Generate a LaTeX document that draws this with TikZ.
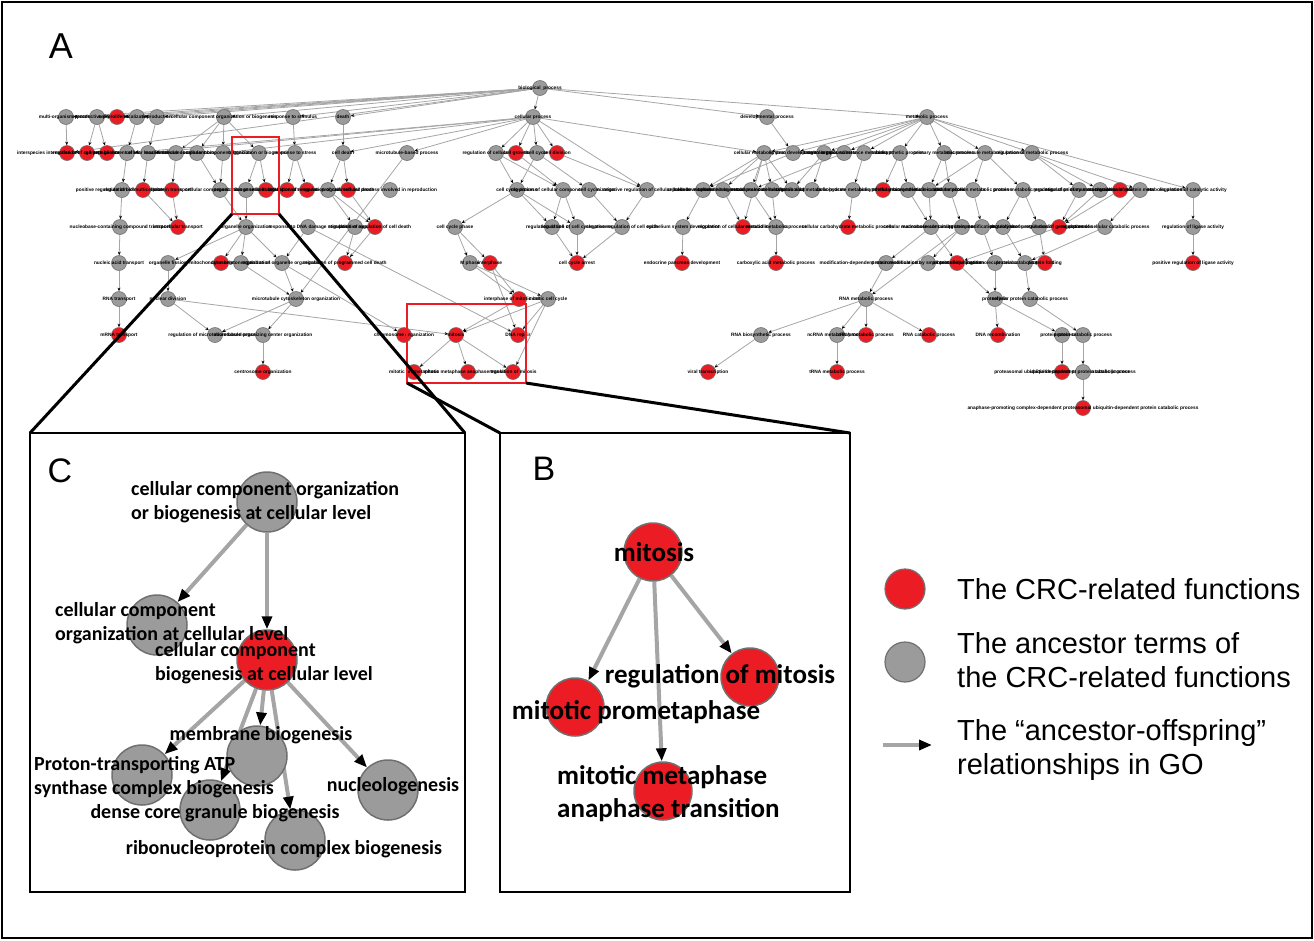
\documentclass[tikz,border=0pt]{standalone}
\usepackage{fontspec}
\setmainfont{Liberation Sans}
\newfontfamily\calibri{Carlito}
\usetikzlibrary{arrows.meta}
\pgfdeclarelayer{bglayer}
\pgfsetlayers{bglayer,main}
\definecolor{cred}{HTML}{EC1C24}
\definecolor{cgray}{HTML}{9B9B9B}
\definecolor{cborder}{HTML}{707070}
\definecolor{cedge}{HTML}{A5A5A5}
\tikzset{
  an/.style={circle,minimum size=15pt,inner sep=0pt,draw=cborder,line width=0.6pt},
  ar/.style={an,fill=cred},
  ag/.style={an,fill=cgray},
  alab/.style={font=\fontsize{4.8}{5}\selectfont\bfseries,inner sep=0pt},
  aedge/.style={draw=cedge,line width=0.8pt,-{Stealth[length=3.6pt,width=3pt,color=black]}},
  bn/.style={circle,minimum size=60pt,inner sep=0pt,draw=cborder,line width=1.5pt},
  bnr/.style={bn,fill=cred},
  bng/.style={bn,fill=cgray},
  ctext/.style={font=\calibri\bfseries\fontsize{20}{24}\selectfont,align=left,inner sep=0pt},
  btext/.style={font=\calibri\bfseries\fontsize{27}{33}\selectfont,align=left,inner sep=0pt},
  bedge/.style={draw=cedge,line width=4pt,-{Triangle[length=13pt,width=10pt,color=black]}},
  panel/.style={draw=black,line width=1.6pt},
  redbox/.style={draw=cred,line width=2.6pt},
  zoomline/.style={draw=black,line width=3pt},
  plabel/.style={font=\fontsize{34}{38}\selectfont,inner sep=0pt},
  legtext/.style={font=\fontsize{29}{34}\selectfont,align=left,inner sep=0pt,anchor=west}
}
\begin{document}
\begin{tikzpicture}[x=1pt,y=-1pt]
\useasboundingbox (0,0) rectangle (1314,940);
\draw[line width=2pt] (2,2) rectangle (1312,938);
\node[plabel,font=\fontsize{36}{40}\selectfont] (labA) at (61,46) {A};

% ---------- Panel A nodes ----------
\foreach \nm/\xx/\yy/\st/\lab in {
 r0/540/88/ag/biological\_process,
 n11/66/117/ag/multi-organism process, n12/97/117/ag/reproductive process, n13/117/117/ar/cell proliferation,
 n14/137/117/ag/localization, n15/157/117/ag/reproduction, n16/224/117/ag/cellular component organization or biogenesis,
 n17/293/117/ag/response to stimulus, n18/343/117/ag/death, cp/533/117/ag/cellular process,
 dp/767/117/ag/developmental process, mp/927/117/ag/metabolic process,
 n21/67/153/ar/interspecies interaction between organisms, n22/87/153/ar/regulation of cell proliferation,
 n23/107/153/ar/gamete generation, n24/127/153/ag/establishment of localization, n25/148/153/ag/cellular localization,
 n26/176/153/ag/macromolecule localization, n27/197/153/ag/cellular component biogenesis,
 n28/223/153/ag/cellular component organization, n29/259/153/ag/organization or biogenesis,
 n210/295/153/ag/response to stress, n211/343/153/ag/cell death, n212/407/153/ag/microtubule-based process,
 n213/496/153/ag/regulation of cellular process, n214/516/153/ar/cell growth, n215/537/153/ag/cell cycle,
 n216/557/153/ar/cell division, n217/764/153/ag/cellular metabolic process, n218/793/153/ag/system development,
 n219/824/153/ag/catabolic process, n220/844/153/ag/nitrogen compound metabolic process,
 n221/864/153/ag/organic substance metabolic process, n222/900/153/ag/biosynthetic process,
 n223/944/153/ag/primary metabolic process, n224/985/153/ag/macromolecule metabolic process,
 n225/1032/153/ag/regulation of metabolic process,
 n31/122/190/ag/positive regulation of biological process, n32/143/190/ar/regulation of multicellular process,
 n33/172/190/ar/protein transport, n34/220/190/ag/cellular component movement,
 n35/246/190/ag/organization at cellular level, n36/266/190/ar/biogenesis at cellular level,
 n37/287/190/ar/cellular response to stress, n38/307/190/ar/regulation of response to stimulus,
 n39/328/190/ag/regulation of cell death, n310/348/190/ar/programmed cell death,
 n311/390/190/ag/cellular process involved in reproduction, n312/517/190/ag/cell cycle process,
 n313/563/190/ag/regulation of cellular component organization, n314/589/190/ag/cell cycle,
 n315/647/190/ag/negative regulation of cellular process, n316/703/190/ag/cellular developmental process,
 n317/723/190/ag/cellular macromolecule metabolic process, n318/751/190/ag/cellular nitrogen compound metabolic process,
 n319/772/190/ag/small molecule metabolic process, n320/792/190/ag/cellular catabolic process,
 n321/812/190/ag/organic acid metabolic process, n322/853/190/ag/carbohydrate metabolic process,
 n323/883/190/ar/biosynthetic process, n324/908/190/ag/cellular biosynthetic process,
 n325/929/190/ag/macromolecule catabolic process, n326/950/190/ag/nucleic acid metabolic process,
 n327/973/190/ag/cellular protein metabolic process, n328/1023/190/ag/protein metabolic process,
 n329/1079/190/ag/regulation of primary metabolic process, n330/1100/190/ag/regulation of macromolecule metabolic process,
 n331/1120/190/ar/macromolecule modification, n332/1140/190/ag/regulation of protein metabolic process,
 n333/1193/190/ag/regulation of catalytic activity,
 n41/120/227/ag/nucleobase-containing compound transport, n42/178/227/ar/intracellular transport,
 n43/246/227/ag/organelle organization, n44/308/227/ag/response to DNA damage stimulus,
 n45/355/227/ag/regulation of apoptosis, n46/375/227/ar/positive regulation of cell death,
 n47/455/227/ag/cell cycle phase, n48/552/227/ag/regulation of cell cycle, n49/577/227/ag/regulation of cell cycle process,
 n410/622/227/ag/negative regulation of cell cycle, n411/683/227/ag/epithelium system development,
 n412/743/227/ar/regulation of cellular metabolic process, n413/776/227/ag/oxoacid metabolic process,
 n414/848/227/ar/cellular carbohydrate metabolic process, n415/931/227/ag/cellular macromolecule catabolic process,
 n416/962/227/ag/nucleobase-containing compound metabolic process, n417/982/227/ag/protein modification process,
 n418/1003/227/ag/proteolysis, n419/1039/227/ag/regulation of protein modification process,
 n420/1059/227/ar/regulation of gene expression, n421/1105/227/ag/regulation of cellular catabolic process,
 n422/1193/227/ag/regulation of ligase activity,
 n51/119/263/ag/nucleic acid transport, n52/168/263/ag/organelle fission, n53/221/263/ar/mitochondrion organization,
 n54/241/263/ag/cytoskeleton organization, n55/282/263/ag/regulation of organelle organization,
 n56/345/263/ar/regulation of programmed cell death, n57/470/263/ag/M phase, n58/490/263/ar/interphase,
 n59/577/263/ar/cell cycle arrest, n510/682/263/ar/endocrine pancreas development,
 n511/776/263/ar/carboxylic acid metabolic process, n512/886/263/ag/modification-dependent macromolecule catabolic process,
 n513/928/263/ag/protein modification by small protein conjugation, n514/957/263/ar/protein ubiquitination,
 n515/995/263/ag/cellular macromolecule catabolic process, n516/1025/263/ag/protein catabolic process,
 n517/1045/263/ar/protein folding, n518/1193/263/ar/positive regulation of ligase activity,
 n61/119/299/ag/RNA transport, n62/168/299/ag/nuclear division, n63/296/299/ag/microtubule cytoskeleton organization,
 n64/519/299/ar/interphase of mitotic cell cycle, n65/548/299/ag/mitotic cell cycle,
 n66/866/299/ag/RNA metabolic process, n67/995/299/ag/proteolysis, n68/1030/299/ag/cellular protein catabolic process,
 n71/119/335/ar/mRNA transport, n72/215/335/ag/regulation of microtubule-based process,
 n73/263/335/ag/microtubule organizing center organization, n74/404/335/ar/chromosome organization,
 n75/456/335/ar/mitosis, n76/518/335/ar/DNA repair, n77/761/335/ag/RNA biosynthetic process,
 n78/837/335/ag/ncRNA metabolic process, n79/866/335/ar/rRNA metabolic process, n710/929/335/ar/RNA catabolic process,
 n711/998/335/ar/DNA recombination, n712/1062/335/ag/protein processing, n713/1083/335/ag/protein catabolic process,
 n81/263/372/ar/centrosome organization, n82/414/372/ar/mitotic prometaphase,
 n83/468/372/ar/mitotic metaphase anaphase transition, n84/513/372/ar/regulation of mitosis,
 n85/708/372/ar/viral transcription, n86/837/372/ar/tRNA metabolic process,
 n87/1062/372/ar/proteasomal ubiquitin-dependent protein catabolic process,
 n88/1083/372/ag/ubiquitin-dependent protein catabolic process,
 n91/1083/408/ar/anaphase-promoting complex-dependent proteasomal ubiquitin-dependent protein catabolic process}
 {\node[\st,label={[alab]center:\lab}] (\nm) at (\xx,\yy) {};}

\begin{pgfonlayer}{bglayer}
\foreach \a/\b in {
 r0/n11,r0/n12,r0/n13,r0/n14,r0/n15,r0/n16,r0/n17,r0/n18,r0/cp,r0/dp,r0/mp,r0/n21,
 n11/n21,n12/n22,n12/n23,n14/n24,n15/n25,n16/n26,n16/n27,n16/n29,n16/n28,n17/n210,n18/n211,
 cp/n24,cp/n25,cp/n28,cp/n211,cp/n212,cp/n213,cp/n214,cp/n215,cp/n216,cp/n315,cp/n217,
 dp/n218,mp/n217,mp/n218,mp/n219,mp/n220,mp/n221,mp/n222,mp/n223,mp/n224,mp/n225,mp/n333,
 n24/n31,n25/n32,n26/n33,n27/n34,n28/n34,n29/n35,n29/n36,n210/n37,n210/n38,n211/n39,n211/n310,
 n212/n63,n213/n312,n213/n313,n214/n313,n215/n312,n215/n314,n216/n315,
 n217/n316,n217/n317,n217/n318,n217/n319,n217/n320,n217/n412,n218/n316,n219/n320,n219/n321,
 n220/n318,n221/n322,n222/n323,n222/n324,n223/n325,n223/n326,n224/n327,n224/n328,n224/n325,
 n225/n329,n225/n330,n225/n332,
 n31/n41,n32/n42,n33/n42,n34/n43,n35/n43,n39/n45,n39/n46,n310/n46,n312/n47,n312/n48,n312/n49,
 n313/n48,n313/n49,n314/n410,n315/n410,n316/n411,n317/n412,n318/n413,n319/n413,n322/n414,
 n324/n415,n325/n415,n326/n416,n327/n417,n328/n418,n328/n419,n329/n420,n330/n420,n331/n420,
 n332/n421,n333/n422,
 n41/n51,n43/n52,n43/n53,n43/n54,n43/n55,n44/n55,n45/n56,n46/n56,n47/n57,n47/n58,n48/n59,
 n49/n59,n410/n59,n411/n510,n413/n511,n415/n512,n415/n514,n416/n513,n417/n515,n418/n516,
 n419/n517,n420/n514,n421/n516,n422/n518,
 n51/n61,n52/n62,n54/n63,n55/n63,n57/n64,n58/n64,n57/n65,n512/n66,n416/n66,n515/n67,n516/n68,n514/n67,
 n61/n71,n62/n72,n63/n72,n63/n73,n62/n75,n55/n74,n44/n76,n65/n75,n64/n75,n65/n76,
 n66/n77,n66/n78,n66/n79,n66/n710,n67/n711,n68/n713,n67/n712,n58/n76,
 n73/n81,n75/n82,n75/n83,n75/n84,n77/n85,n78/n86,n712/n87,n713/n88,n65/n84,n88/n91}
 {\draw[aedge] (\a) -- (\b);}
\end{pgfonlayer}

% ---------- red boxes and zoom lines ----------
\coordinate (rb1a) at (232,137); \coordinate (rb1b) at (279,214);
\coordinate (rb2a) at (407,304); \coordinate (rb2b) at (526,383);
\coordinate (rb1bl) at (232,214); \coordinate (rb2bl) at (407,383);
\coordinate (pCtl) at (30,433); \coordinate (pCbr) at (465,892);
\coordinate (pBtl) at (500,433); \coordinate (pBbr) at (850,892);
\coordinate (pCtr) at (465,433); \coordinate (pBtr) at (850,433);
\draw[redbox] (rb1a) rectangle (rb1b);
\draw[redbox] (rb2a) rectangle (rb2b);
\draw[zoomline] (rb1bl) -- (pCtl);
\draw[zoomline] (rb1b) -- (pCtr);
\draw[zoomline] (rb2bl) -- (pBtl);
\draw[zoomline] (rb2b) -- (pBtr);
\draw[panel] (pCtl) rectangle (pCbr);
\draw[panel] (pBtl) rectangle (pBbr);

% ---------- Panel C ----------
\node[plabel] (labC) at (60,471) {C};
\node[bng] (c1) at (267,502) {};
\node[bng] (c2) at (157,625) {};
\node[bnr] (c3) at (267,660) {};
\node[bng] (c4) at (257,756) {};
\node[bng] (c5) at (142,775) {};
\node[bng] (c6) at (210,810) {};
\node[bng] (c7) at (295,840) {};
\node[bng] (c8) at (388,790) {};
\begin{pgfonlayer}{bglayer}
\foreach \a/\b in {c1/c2,c1/c3,c3/c4,c3/c5,c3/c6,c3/c7,c3/c8}
 {\draw[bedge] (\a) -- (\b);}
\end{pgfonlayer}
\node[ctext,anchor=west] (t1) at (131,502) {cellular component organization\\or biogenesis at cellular level};
\node[ctext,anchor=west] (t2) at (55,623) {cellular component\\organization at cellular level};
\node[ctext,anchor=west] (t3) at (155,663) {cellular component\\biogenesis at cellular level};
\node[ctext] (t4) at (261,735) {membrane biogenesis};
\node[ctext,anchor=west] (t5) at (34,777) {Proton-transporting ATP\\synthase complex biogenesis};
\node[ctext] (t6) at (215,813) {dense core granule biogenesis};
\node[ctext] (t7) at (284,849) {ribonucleoprotein complex biogenesis};
\node[ctext] (t8) at (393,786) {nucleologenesis};

% ---------- Panel B ----------
\node[plabel] (labB) at (544,469) {B};
\node[bnr,minimum size=58pt] (b1) at (653,552) {};
\node[bnr,minimum size=58pt] (b2) at (750,677) {};
\node[bnr,minimum size=58pt] (b3) at (575,707) {};
\node[bnr,minimum size=58pt] (b4) at (663,791) {};
\begin{pgfonlayer}{bglayer}
\foreach \a/\b in {b1/b2,b1/b3,b1/b4}
 {\draw[bedge] (\a) -- (\b);}
\end{pgfonlayer}
\node[btext] (s1) at (654,552) {mitosis};
\node[btext] (s2) at (720,676) {regulation of mitosis};
\node[btext] (s3) at (636,712) {mitotic prometaphase};
\node[btext,anchor=west] (s4) at (557,794) {mitotic metaphase\\anaphase transition};

% ---------- Legend ----------
\node[bnr,minimum size=40pt,line width=1.2pt] (lr) at (905,589) {};
\node[bng,minimum size=40pt,line width=1.2pt] (lg) at (905,662) {};
\coordinate (la1) at (883,745);
\coordinate (la2) at (932,745);
\draw[bedge] (la1) -- (la2);
\node[legtext] (l1) at (957,589) {The CRC-related functions};
\node[legtext] (l2) at (957,660) {The ancestor terms of\\the CRC-related functions};
\node[legtext] (l3) at (957,750) {The “ancestor-offspring”\\relationships in GO};
\end{tikzpicture}
\end{document}
